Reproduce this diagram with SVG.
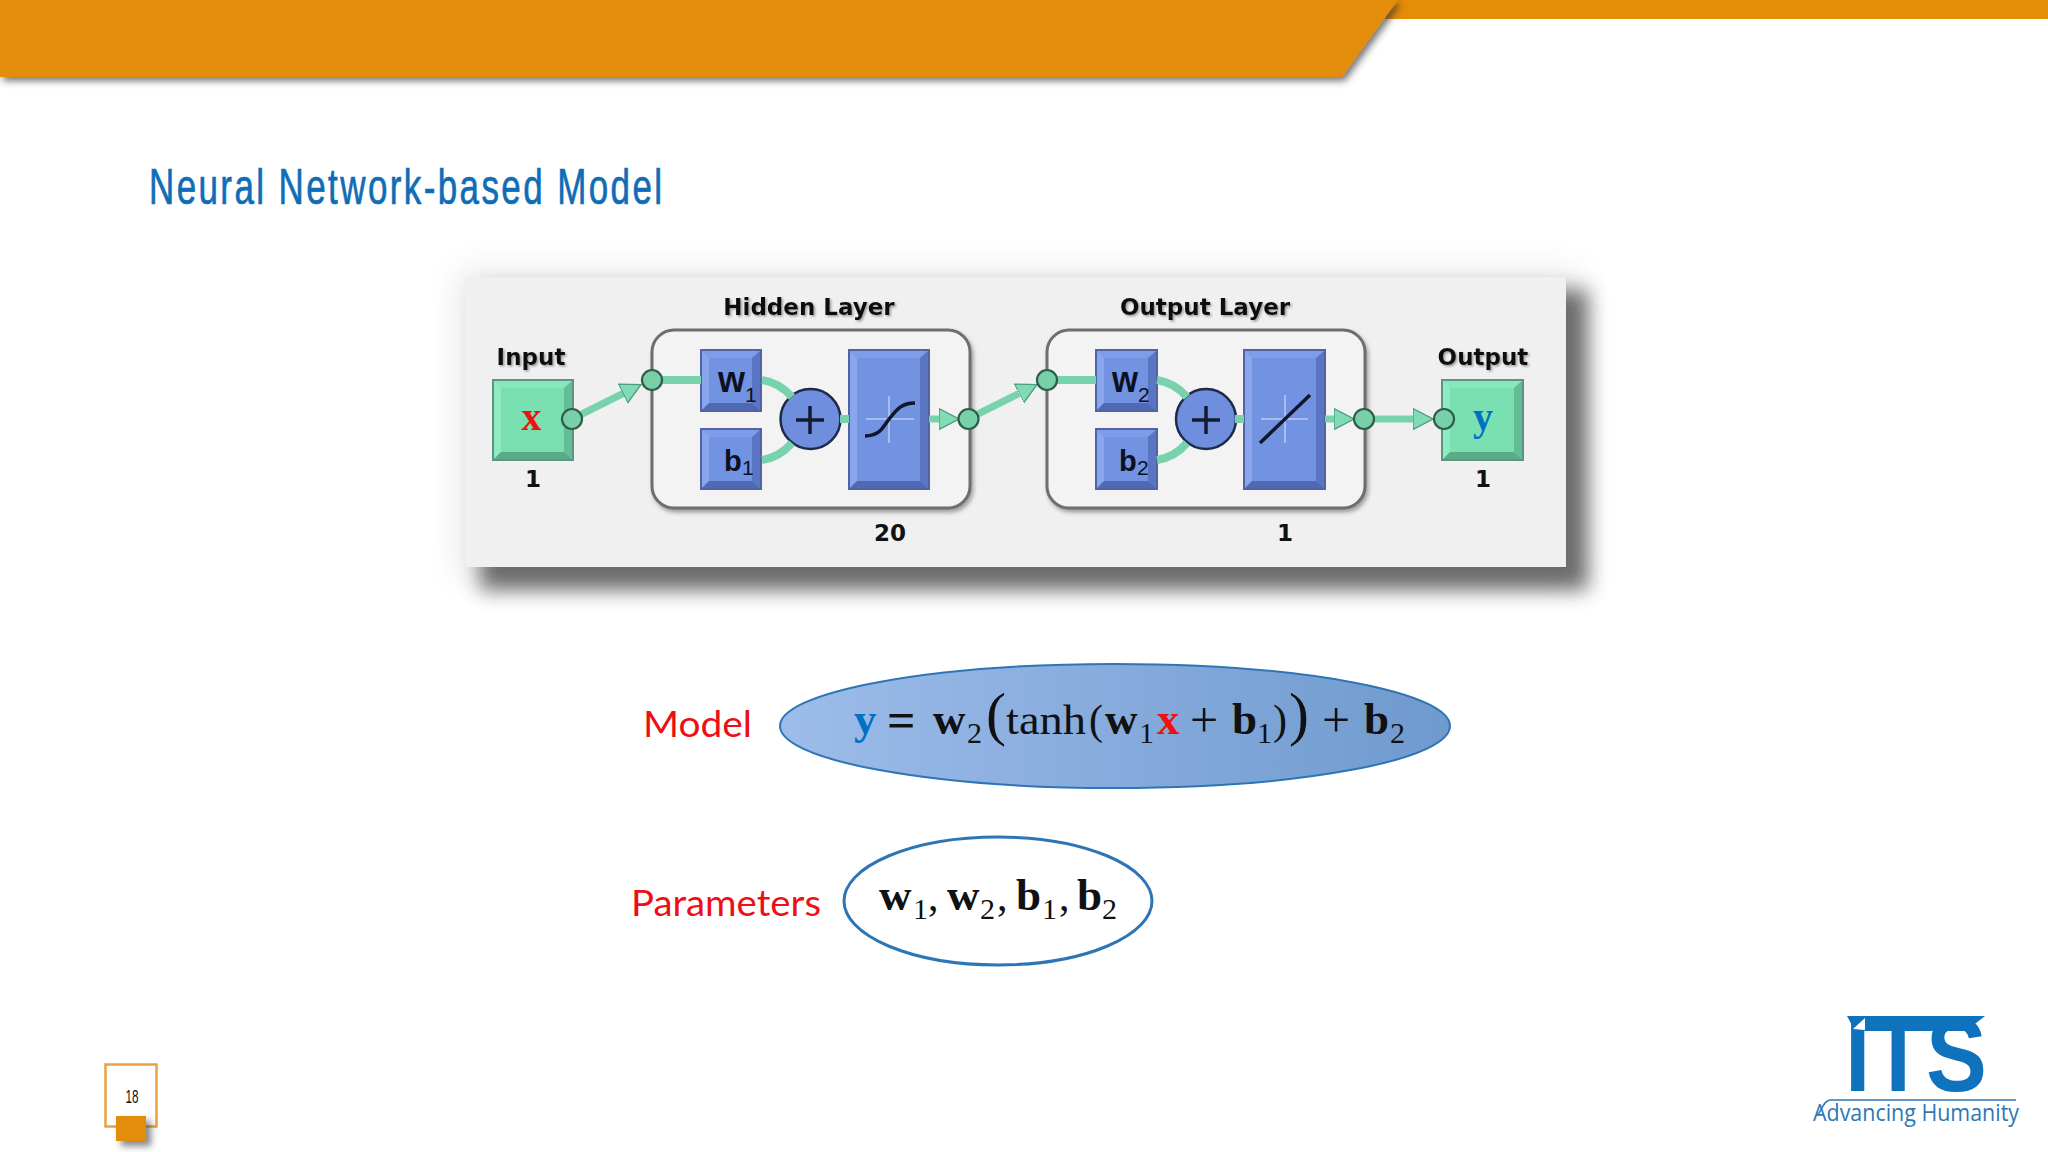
<svg xmlns="http://www.w3.org/2000/svg" width="2048" height="1152" viewBox="0 0 2048 1152">
<style>
.lbl{font:bold 23px "DejaVu Sans",sans-serif;fill:#111;text-anchor:middle}
.sdw{filter:url(#txs)}
.bf{fill:#7292e2;stroke:#4f63a6;stroke-width:2}
.bt{fill:#7e9ce8}.bl{fill:#8aa6ec}.bb{fill:#4f69b2}.br{fill:#5a75c2}
.gf{fill:#7ae0b2;stroke:#5f9580;stroke-width:2}
.gt{fill:#86e8bc}.gl{fill:#8eecc2}.gb{fill:#58ad88}.gr{fill:#62bc96}
.layer{fill:#f3f3f3;stroke:#6e6e6e;stroke-width:3;filter:url(#lys)}
.wire{fill:none;stroke:#78d2ab;stroke-width:8}
.wh{stroke:#78d2ab;stroke-width:7;fill:none;marker-end:url(#tri)}
.jn{fill:#78d0a8;stroke:#2e5d48;stroke-width:2.2}
.sum{fill:#6f8ede;stroke:#1e2a4a;stroke-width:2.5}
.pl{stroke:#141c33;stroke-width:3.5;fill:none}
.cr{stroke:#a9bcec;stroke-width:2;fill:none}
.cv{stroke:#10162c;stroke-width:3.5;fill:none}
.bw{font:bold 36px "Liberation Sans",sans-serif;fill:#0c1020}
.bbs{font:bold 29px "Liberation Sans",sans-serif;fill:#0c1020}
.sb{font:21px "Liberation Sans",sans-serif;fill:#0c1020}
.f{font:42px "Liberation Serif",serif;fill:#111}
.op{font:50px "Liberation Serif",serif;fill:#111}
.fb{font:bold 45px "Liberation Serif",serif;fill:#111}
.fs{font:30px "Liberation Serif",serif;fill:#111}
.big{font:60px "Liberation Serif",serif;fill:#111}
.red{font:37px "Lato",sans-serif;fill:#ee0f16}
</style>
<defs>
<linearGradient id="eg" x1="0" x2="1" y1="0" y2="0"><stop offset="0" stop-color="#9dbcea"/><stop offset="1" stop-color="#6f9ace"/></linearGradient>
<filter id="pbl" x="-10%" y="-20%" width="120%" height="140%"><feGaussianBlur stdDeviation="10"/></filter>
<filter id="halo" x="-10%" y="-20%" width="120%" height="140%"><feGaussianBlur stdDeviation="16"/></filter>
<filter id="hs" x="-5%" y="-50%" width="110%" height="220%"><feDropShadow dx="3" dy="4" stdDeviation="3.5" flood-color="#333" flood-opacity=".65"/></filter>
<filter id="ss" x="-50%" y="-50%" width="220%" height="220%"><feDropShadow dx="5" dy="5" stdDeviation="3.5" flood-color="#333" flood-opacity=".6"/></filter>
<filter id="lys" x="-5%" y="-5%" width="110%" height="112%"><feDropShadow dx="2" dy="3" stdDeviation="2" flood-color="#666" flood-opacity=".6"/></filter>
<filter id="txs" x="-10%" y="-20%" width="120%" height="150%"><feDropShadow dx="1.5" dy="1.5" stdDeviation="1.2" flood-color="#777" flood-opacity=".7"/></filter>
<marker id="tri" markerUnits="userSpaceOnUse" markerWidth="22" markerHeight="24" refX="0" refY="12" orient="auto"><path d="M0,1.500 L20,12 L0,22.500 Z" fill="#7fdcb4" stroke="#4f9c7e" stroke-width="1.400"/></marker>
</defs>
<rect width="2048" height="1152" fill="#fff"/>

<g id="header">
<rect x="1385" y="0" width="663" height="19" fill="#e48d07"/>
<polygon points="0,0 1398,0 1342,77 0,77" fill="#e48d07" filter="url(#hs)"/>
</g>

<text id="title" transform="translate(149 204) scale(.7 1)" textLength="733" lengthAdjust="spacing" font-family="'Liberation Sans',sans-serif" font-size="50" fill="#0f6cb6" stroke="#0f6cb6" stroke-width=".7">Neural Network-based Model</text>

<g id="panel">
<rect x="455" y="268" width="1125" height="312" fill="#000" opacity=".07" filter="url(#halo)"/>
<rect x="480" y="290" width="1108" height="300" fill="#555" opacity=".85" filter="url(#pbl)"/>
<rect x="465" y="277" width="1101" height="290" fill="#f0f0f0"/>
</g>

<g id="hidden-layer">
<rect class="layer" x="652" y="330" width="318" height="178" rx="22"/>
<text class="lbl sdw" x="809" y="315">Hidden Layer</text>
<text class="lbl" x="890" y="541">20</text>
</g>
<g id="output-layer">
<rect class="layer" x="1047" y="330" width="318" height="178" rx="22"/>
<text class="lbl sdw" x="1205" y="315">Output Layer</text>
<text class="lbl" x="1285" y="541">1</text>
</g>

<g id="input">
<text class="lbl sdw" x="531" y="365">Input</text>
<rect class="gf" x="493" y="380" width="80" height="80"/>
<polygon class="gt" points="494,381 572,381 564,388 501,388"/>
<polygon class="gl" points="494,381 501,388 501,452 494,459"/>
<polygon class="gb" points="494,459 501,452 564,452 572,459"/>
<polygon class="gr" points="572,381 564,388 564,452 572,459"/>
<text x="531.500" y="430" text-anchor="middle" font-family="'Liberation Serif',serif" font-weight="bold" font-size="40" fill="#ee1111">x</text>
<text class="lbl" x="533" y="487">1</text>
</g>

<g id="output">
<text class="lbl sdw" x="1483" y="365">Output</text>
<rect class="gf" x="1442" y="380" width="81" height="80"/>
<polygon class="gt" points="1443,381 1522,381 1514,388 1450,388"/>
<polygon class="gl" points="1443,381 1450,388 1450,452 1443,459"/>
<polygon class="gb" points="1443,459 1450,452 1514,452 1522,459"/>
<polygon class="gr" points="1522,381 1514,388 1514,452 1522,459"/>
<text x="1483" y="430" text-anchor="middle" font-family="'Liberation Serif',serif" font-weight="bold" font-size="40" fill="#0070c0">y</text>
<text class="lbl" x="1483" y="487">1</text>
</g>

<g id="w1">
<rect class="bf" x="701" y="350" width="60" height="61"/>
<polygon class="bt" points="702,351 760,351 752,358 709,358"/>
<polygon class="bl" points="702,351 709,358 709,403 702,410"/>
<polygon class="bb" points="702,410 709,403 752,403 760,410"/>
<polygon class="br" points="760,351 752,358 752,403 760,410"/>
<text class="bw" x="718" y="392" textLength="27" lengthAdjust="spacingAndGlyphs">w</text><text class="sb" x="745" y="402">1</text>
</g>
<g id="b1">
<rect class="bf" x="701" y="429" width="60" height="60"/>
<polygon class="bt" points="702,430 760,430 752,437 709,437"/>
<polygon class="bl" points="702,430 709,437 709,481 702,488"/>
<polygon class="bb" points="702,488 709,481 752,481 760,488"/>
<polygon class="br" points="760,430 752,437 752,481 760,488"/>
<text class="bbs" x="724" y="471">b</text><text class="sb" x="742" y="475">1</text>
</g>
<g id="sum1">
<circle class="sum" cx="810.500" cy="419" r="30"/>
<path class="pl" d="M796,420H824M810,406V434"/>
</g>
<g id="tansig">
<rect class="bf" x="849" y="350" width="80" height="139"/>
<polygon class="bt" points="850,351 928,351 920,358 857,358"/>
<polygon class="bl" points="850,351 857,358 857,481 850,488"/>
<polygon class="bb" points="850,488 857,481 920,481 928,488"/>
<polygon class="br" points="928,351 920,358 920,481 928,488"/>
<path class="cr" d="M866,419H914M889,396V443"/>
<path class="cv" d="M865,436C882,436 884,424 890,418C897,409 902,403 915,403"/>
</g>

<g id="w2">
<rect class="bf" x="1096" y="350" width="61" height="61"/>
<polygon class="bt" points="1097,351 1156,351 1148,358 1104,358"/>
<polygon class="bl" points="1097,351 1104,358 1104,403 1097,410"/>
<polygon class="bb" points="1097,410 1104,403 1148,403 1156,410"/>
<polygon class="br" points="1156,351 1148,358 1148,403 1156,410"/>
<text class="bw" x="1112" y="392" textLength="26" lengthAdjust="spacingAndGlyphs">w</text><text class="sb" x="1138" y="402">2</text>
</g>
<g id="b2">
<rect class="bf" x="1096" y="429" width="61" height="60"/>
<polygon class="bt" points="1097,430 1156,430 1148,437 1104,437"/>
<polygon class="bl" points="1097,430 1104,437 1104,481 1097,488"/>
<polygon class="bb" points="1097,488 1104,481 1148,481 1156,488"/>
<polygon class="br" points="1156,430 1148,437 1148,481 1156,488"/>
<text class="bbs" x="1119" y="471">b</text><text class="sb" x="1137" y="475">2</text>
</g>
<g id="sum2">
<circle class="sum" cx="1206" cy="419" r="30"/>
<path class="pl" d="M1192,420H1220M1206,406V434"/>
</g>
<g id="purelin">
<rect class="bf" x="1244" y="350" width="81" height="139"/>
<polygon class="bt" points="1245,351 1324,351 1316,358 1252,358"/>
<polygon class="bl" points="1245,351 1252,358 1252,481 1245,488"/>
<polygon class="bb" points="1245,488 1252,481 1316,481 1324,488"/>
<polygon class="br" points="1324,351 1316,358 1316,481 1324,488"/>
<path class="cr" d="M1261,419H1308M1285,395V443"/>
<path class="cv" d="M1260,443L1310,395"/>
</g>

<g id="connectors">
<path class="wh" d="M572,419L623,393.500"/>
<path class="wire" d="M652,380H701"/>
<path class="wire" d="M762,380C775,382 785,389 792,397"/>
<path class="wire" d="M762,460C775,458 785,451 792,443"/>
<path class="wire" d="M840,419H849"/>
<path class="wh" d="M929,419H939"/>
<path class="wh" d="M968,419L1019,393.500"/>
<path class="wire" d="M1047,380H1096"/>
<path class="wire" d="M1157,380C1170,382 1180,389 1187,397"/>
<path class="wire" d="M1157,460C1170,458 1180,451 1187,443"/>
<path class="wire" d="M1235,419H1244"/>
<path class="wh" d="M1325,419H1334"/>
<path class="wh" d="M1364,419H1413"/>
<circle class="jn" cx="572" cy="419" r="10"/>
<circle class="jn" cx="652" cy="380" r="10"/>
<circle class="jn" cx="968.500" cy="419" r="10"/>
<circle class="jn" cx="1047" cy="380" r="10"/>
<circle class="jn" cx="1364" cy="419" r="10"/>
<circle class="jn" cx="1444" cy="419" r="10"/>
</g>

<g id="model">
<text class="red" x="643" y="737" textLength="109" lengthAdjust="spacingAndGlyphs">Model</text>
<ellipse cx="1115" cy="726" rx="335" ry="62" fill="url(#eg)" stroke="#2e75b6" stroke-width="2"/>
<text class="fb" x="854" y="734" style="fill:#0070c0">y</text>
<text class="op" x="887" y="737" style="font-weight:bold">=</text>
<text class="fb" x="933" y="734">w</text>
<text class="fs" x="967" y="743">2</text>
<text class="big" x="986" y="734">(</text>
<text class="f" x="1006" y="734" textLength="80" lengthAdjust="spacingAndGlyphs">tanh</text>
<text class="f" x="1089" y="734">(</text>
<text class="fb" x="1105" y="734">w</text>
<text class="fs" x="1139" y="743">1</text>
<text class="fb" x="1157" y="734" style="fill:#ee1111">x</text>
<text class="op" x="1190" y="737">+</text>
<text class="fb" x="1232" y="734">b</text>
<text class="fs" x="1257" y="743">1</text>
<text class="f" x="1273" y="734">)</text>
<text class="big" x="1289" y="734">)</text>
<text class="op" x="1322" y="737">+</text>
<text class="fb" x="1364" y="734">b</text>
<text class="fs" x="1390" y="743">2</text>
</g>

<g id="parameters">
<text class="red" x="631" y="916" textLength="190" lengthAdjust="spacingAndGlyphs">Parameters</text>
<ellipse cx="998" cy="901" rx="154" ry="64" fill="#fff" stroke="#2e75b6" stroke-width="3"/>
<text class="fb" x="879" y="910">w</text><text class="fs" x="913" y="919">1</text><text class="f" x="928" y="910">,</text>
<text class="fb" x="947" y="910">w</text><text class="fs" x="980" y="919">2</text><text class="f" x="997" y="910">,</text>
<text class="fb" x="1016" y="910">b</text><text class="fs" x="1042" y="919">1</text><text class="f" x="1059" y="910">,</text>
<text class="fb" x="1077" y="910">b</text><text class="fs" x="1102" y="919">2</text>
</g>

<g id="page-number">
<rect x="105.500" y="1064.500" width="51" height="62" fill="#fff" stroke="#e8a33d" stroke-width="2.500"/>
<text x="125.500" y="1103" font-family="'Liberation Sans',sans-serif" font-size="19" textLength="13" lengthAdjust="spacingAndGlyphs" fill="#111">18</text>
<rect x="116" y="1116" width="30" height="25" fill="#e48d07" filter="url(#ss)"/>
</g>

<g id="logo">
<text x="1845" y="1091" font-family="'Liberation Sans',sans-serif" font-weight="bold" font-size="104" textLength="142" lengthAdjust="spacingAndGlyphs" fill="#0e72bd">ITS</text>
<polygon points="1847,1016 1985,1016 1966,1031 1855,1031" fill="#0e72bd"/>
<polygon points="1853,1029 1865,1018 1865,1030" fill="#fff"/>
<path d="M1818,1115C1822,1108 1825,1100 1830,1100H2016" fill="none" stroke="#2e77b5" stroke-width="1.500"/>
<text x="1813" y="1121" font-family="'Open Sans',sans-serif" font-size="24" textLength="206" lengthAdjust="spacingAndGlyphs" fill="#2e77b5">Advancing Humanity</text>
</g>
</svg>
